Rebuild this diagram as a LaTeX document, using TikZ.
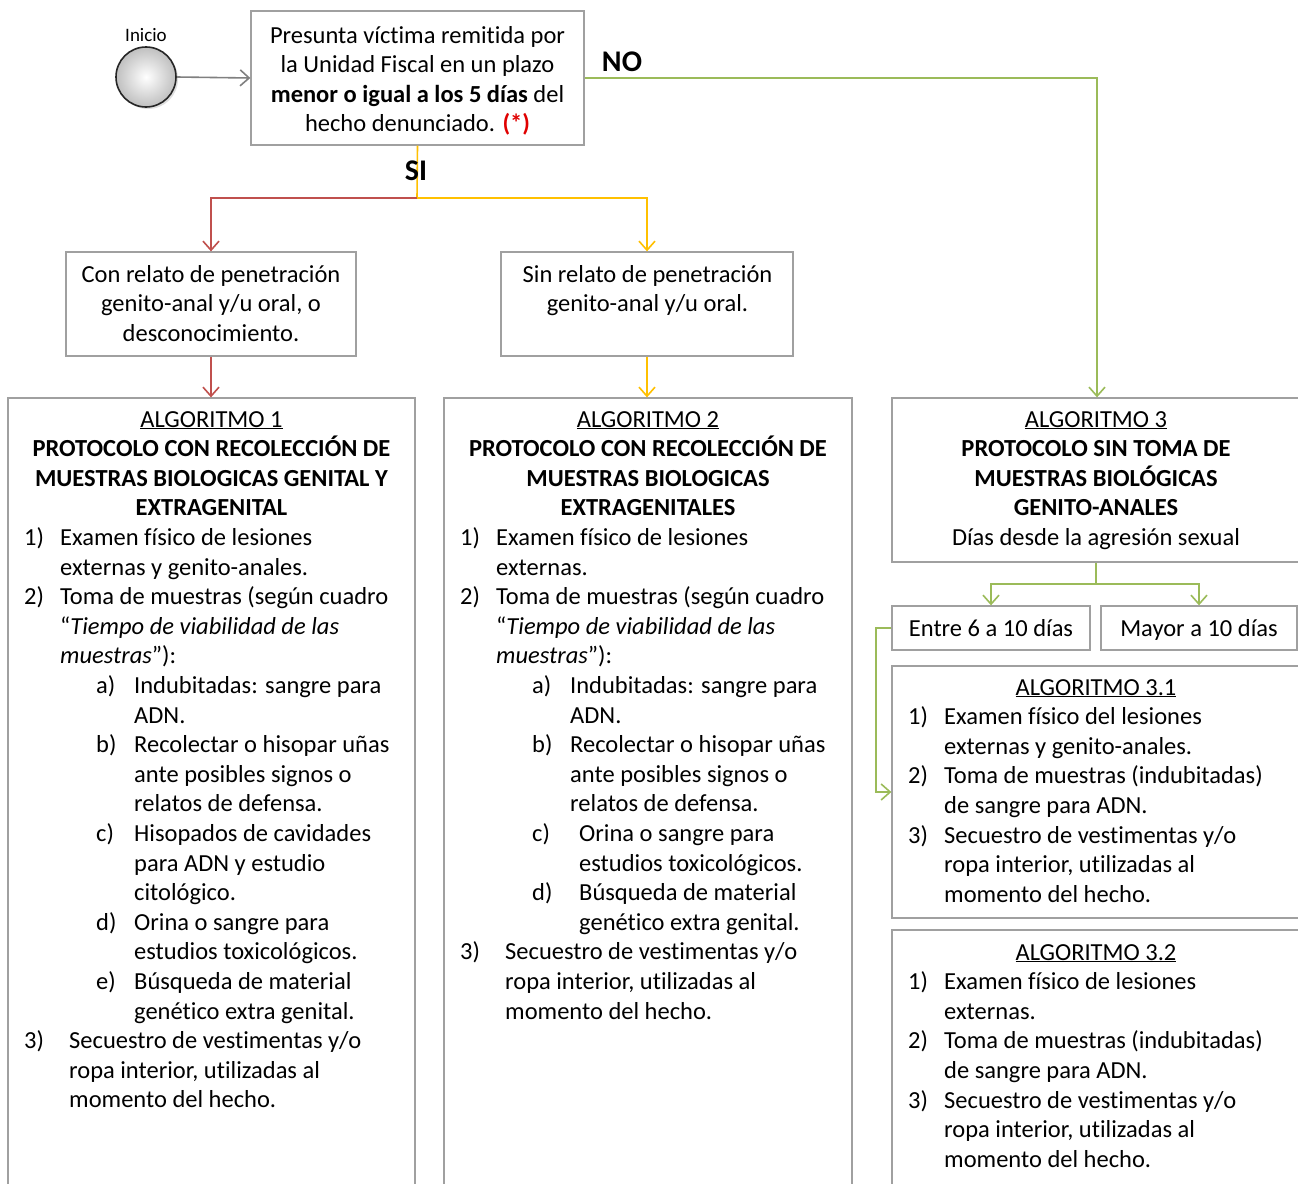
\documentclass[tikz,border=0pt]{standalone}
\usepackage{fontspec}
\setmainfont{Carlito}[Ligatures={NoCommon}]
\usetikzlibrary{arrows.meta,shadows}
\definecolor{bordergray}{HTML}{A0A0A0}
\definecolor{redl}{HTML}{C0504D}
\definecolor{yell}{HTML}{FFC000}
\definecolor{greenl}{HTML}{9BBB59}
\definecolor{arrgray}{HTML}{808080}
\definecolor{starred}{HTML}{E00000}
\tikzset{
  box/.style={draw=bordergray, line width=1.3pt, fill=white, inner sep=0pt},
  txt/.style={inner sep=0pt, font=\fontsize{24.5}{29.6}\selectfont},
  conn/.style={line width=1.6pt, -{Straight Barb[length=9pt,width=16pt]}},
  plain/.style={line width=1.6pt}
}
\newcommand\IT[5]{\node[txt,anchor=base west] (#1) at (#2,{#3+29.6*#4}) {#5};}
\newcommand\CT[5]{\node[txt,anchor=base] (#1) at (#2,{#3+29.6*#4}) {#5};}
\begin{document}
\begin{tikzpicture}[x=1pt,y=-1pt]
\useasboundingbox (0,0) rectangle (1298,1183);
\clip (0,0) rectangle (1298,1183);
\fill[white] (0,0) rectangle (1298,1183);

% boxes
\node[box, minimum width=333pt, minimum height=134pt] (top) at (417.5,78) {};
\node[box, minimum width=290pt, minimum height=104pt] (con) at (211,304) {};
\node[box, minimum width=292pt, minimum height=104pt] (sin) at (647,304) {};
\node[box, minimum width=407pt, minimum height=802pt] (alg1) at (211.5,799) {};
\node[box, minimum width=408pt, minimum height=802pt] (alg2) at (648,799) {};
\node[box, minimum width=410pt, minimum height=164pt] (alg3) at (1097,480) {};
\node[box, minimum width=198pt, minimum height=44pt] (entre) at (991,628) {};
\node[box, minimum width=196pt, minimum height=44pt] (mayor) at (1199,628) {};
\node[box, minimum width=410pt, minimum height=252pt] (alg31) at (1097,792) {};
\node[box, minimum width=410pt, minimum height=270pt] (alg32) at (1097,1065) {};

% start
\node[circle, draw=black!85, line width=1.6pt, minimum size=60pt, inner sep=0pt,
      shading=radial, inner color=white, outer color=black!25,
      drop shadow={shadow xshift=2pt, shadow yshift=-2pt, opacity=0.25}] (start) at (146,77) {};
\node[inner sep=0pt, anchor=base, font=\fontsize{19}{22}\selectfont] (inicio) at (146,41) {Inicio};

% connectors
\draw[conn, arrgray] (start.east) -- (top.west);
\draw[conn, greenl] (top.east) -| (alg3.north);
\coordinate (jn) at (417,198);
\draw[conn, yell] (top.south) -- (jn) -| (sin.north);
\draw[conn, redl] (jn) -| (con.north);
\draw[conn, redl] (con.south) -- (con.south |- alg1.north);
\draw[conn, yell] (sin.south) -- (sin.south |- alg2.north);
\coordinate (gj) at (1096,584);
\draw[plain, greenl] (alg3.south -| gj) -- (gj);
\draw[conn, greenl] (gj) -| (entre.north);
\draw[conn, greenl] (gj) -| (mayor.north);
\coordinate (gl) at (876,628);
\draw[conn, greenl] (entre.west) -- (gl) |- (alg31.west);

% labels
\node[inner sep=0pt, anchor=base, font=\fontsize{30}{34}\selectfont\bfseries] (no) at (622,71) {NO};
\node[inner sep=0pt, anchor=base, font=\fontsize{30}{34}\selectfont\bfseries] (si) at (416,180) {SI};

% top box text
\CT{t0}{417.5}{43}{0}{Presunta víctima remitida por}
\CT{t1}{417.5}{43}{1}{la Unidad Fiscal en un plazo}
\CT{t2}{417.5}{43}{2}{\textbf{menor o igual a los 5 días} del}
\CT{t3}{417.5}{43}{3}{hecho denunciado. \textcolor{starred}{\textbf{(*)}}}

% con / sin
\CT{c0}{211}{282}{0}{Con relato de penetración}
\CT{c1}{211}{282}{1}{genito-anal y/u oral, o}
\CT{c2}{211}{282}{2}{desconocimiento.}
\CT{s0}{647.5}{282}{0}{Sin relato de penetración}
\CT{s1}{647.5}{282}{1}{genito-anal y/u oral.}

% algoritmo 1
\CT{a1h0}{211.5}{427}{0}{\underline{ALGORITMO 1}}
\CT{a1h1}{211.5}{427}{1}{\textbf{PROTOCOLO CON RECOLECCIÓN DE}}
\CT{a1h2}{211.5}{427}{2}{\textbf{MUESTRAS BIOLOGICAS GENITAL Y}}
\CT{a1h3}{211.5}{427}{3}{\textbf{EXTRAGENITAL}}
\IT{a1n1}{24}{427}{4}{1)}
\IT{a1r4}{60}{427}{4}{Examen físico de lesiones}
\IT{a1r5}{60}{427}{5}{externas y genito-anales.}
\IT{a1n2}{24}{427}{6}{2)}
\IT{a1r6}{60}{427}{6}{Toma de muestras (según cuadro}
\IT{a1r7}{60}{427}{7}{“\textit{Tiempo de viabilidad de las}}
\IT{a1r8}{60}{427}{8}{\textit{muestras}”):}
\IT{a1na}{96}{427}{9}{a)}
\IT{a1r9}{134}{427}{9}{Indubitadas: sangre para}
\IT{a1r10}{134}{427}{10}{ADN.}
\IT{a1nb}{96}{427}{11}{b)}
\IT{a1r11}{134}{427}{11}{Recolectar o hisopar uñas}
\IT{a1r12}{134}{427}{12}{ante posibles signos o}
\IT{a1r13}{134}{427}{13}{relatos de defensa.}
\IT{a1nc}{96}{427}{14}{c)}
\IT{a1r14}{134}{427}{14}{Hisopados de cavidades}
\IT{a1r15}{134}{427}{15}{para ADN y estudio}
\IT{a1r16}{134}{427}{16}{citológico.}
\IT{a1nd}{96}{427}{17}{d)}
\IT{a1r17}{134}{427}{17}{Orina o sangre para}
\IT{a1r18}{134}{427}{18}{estudios toxicológicos.}
\IT{a1ne}{96}{427}{19}{e)}
\IT{a1r19}{134}{427}{19}{Búsqueda de material}
\IT{a1r20}{134}{427}{20}{genético extra genital.}
\IT{a1n3}{24}{427}{21}{3)}
\IT{a1r21}{69}{427}{21}{Secuestro de vestimentas y/o}
\IT{a1r22}{69}{427}{22}{ropa interior, utilizadas al}
\IT{a1r23}{69}{427}{23}{momento del hecho.}

% algoritmo 2
\CT{a2h0}{648}{427}{0}{\underline{ALGORITMO 2}}
\CT{a2h1}{648}{427}{1}{\textbf{PROTOCOLO CON RECOLECCIÓN DE}}
\CT{a2h2}{648}{427}{2}{\textbf{MUESTRAS BIOLOGICAS}}
\CT{a2h3}{648}{427}{3}{\textbf{EXTRAGENITALES}}
\IT{a2n1}{460}{427}{4}{1)}
\IT{a2r4}{496}{427}{4}{Examen físico de lesiones}
\IT{a2r5}{496}{427}{5}{externas.}
\IT{a2n2}{460}{427}{6}{2)}
\IT{a2r6}{496}{427}{6}{Toma de muestras (según cuadro}
\IT{a2r7}{496}{427}{7}{“\textit{Tiempo de viabilidad de las}}
\IT{a2r8}{496}{427}{8}{\textit{muestras}”):}
\IT{a2na}{532}{427}{9}{a)}
\IT{a2r9}{570}{427}{9}{Indubitadas: sangre para}
\IT{a2r10}{570}{427}{10}{ADN.}
\IT{a2nb}{532}{427}{11}{b)}
\IT{a2r11}{570}{427}{11}{Recolectar o hisopar uñas}
\IT{a2r12}{570}{427}{12}{ante posibles signos o}
\IT{a2r13}{570}{427}{13}{relatos de defensa.}
\IT{a2nc}{532}{427}{14}{c)}
\IT{a2r14}{579}{427}{14}{Orina o sangre para}
\IT{a2r15}{579}{427}{15}{estudios toxicológicos.}
\IT{a2nd}{532}{427}{16}{d)}
\IT{a2r16}{579}{427}{16}{Búsqueda de material}
\IT{a2r17}{579}{427}{17}{genético extra genital.}
\IT{a2n3}{460}{427}{18}{3)}
\IT{a2r18}{505}{427}{18}{Secuestro de vestimentas y/o}
\IT{a2r19}{505}{427}{19}{ropa interior, utilizadas al}
\IT{a2r20}{505}{427}{20}{momento del hecho.}

% algoritmo 3
\CT{a3h0}{1096}{427}{0}{\underline{ALGORITMO 3}}
\CT{a3h1}{1096}{427}{1}{\textbf{PROTOCOLO SIN TOMA DE}}
\CT{a3h2}{1096}{427}{2}{\textbf{MUESTRAS BIOLÓGICAS}}
\CT{a3h3}{1096}{427}{3}{\textbf{GENITO-ANALES}}
\CT{a3h4}{1096}{427}{4}{Días desde la agresión sexual}

\CT{e0}{991}{636}{0}{Entre 6 a 10 días}
\CT{m0}{1199}{636}{0}{Mayor a 10 días}

% algoritmo 3.1
\CT{b0}{1096}{695}{0}{\underline{ALGORITMO 3.1}}
\IT{bn1}{908}{695}{1}{1)}
\IT{b1}{944}{695}{1}{Examen físico del lesiones}
\IT{b2}{944}{695}{2}{externas y genito-anales.}
\IT{bn2}{908}{695}{3}{2)}
\IT{b3}{944}{695}{3}{Toma de muestras (indubitadas)}
\IT{b4}{944}{695}{4}{de sangre para ADN.}
\IT{bn3}{908}{695}{5}{3)}
\IT{b5}{944}{695}{5}{Secuestro de vestimentas y/o}
\IT{b6}{944}{695}{6}{ropa interior, utilizadas al}
\IT{b7}{944}{695}{7}{momento del hecho.}

% algoritmo 3.2
\CT{d0}{1096}{960}{0}{\underline{ALGORITMO 3.2}}
\IT{dn1}{908}{960}{1}{1)}
\IT{d1}{944}{960}{1}{Examen físico de lesiones}
\IT{d2}{944}{960}{2}{externas.}
\IT{dn2}{908}{960}{3}{2)}
\IT{d3}{944}{960}{3}{Toma de muestras (indubitadas)}
\IT{d4}{944}{960}{4}{de sangre para ADN.}
\IT{dn3}{908}{960}{5}{3)}
\IT{d5}{944}{960}{5}{Secuestro de vestimentas y/o}
\IT{d6}{944}{960}{6}{ropa interior, utilizadas al}
\IT{d7}{944}{960}{7}{momento del hecho.}
\end{tikzpicture}
\end{document}
